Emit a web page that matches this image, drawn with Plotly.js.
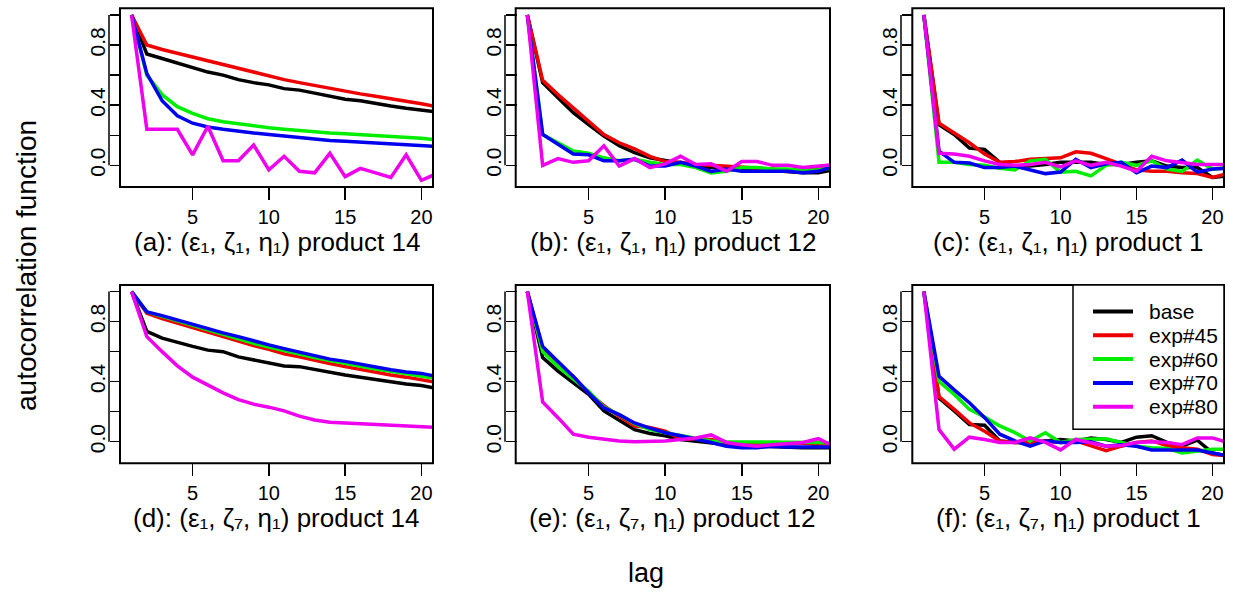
<!DOCTYPE html>
<html>
<head>
<meta charset="utf-8">
<script src="https://cdn.plot.ly/plotly-3.0.1.min.js"></script>
<style>html,body{margin:0;padding:0;background:#fff;}#chart{width:1238px;height:592px;}</style>
</head>
<body>
<div id="chart"></div>
<script>
// ---------- data ----------
const lags = [1,2,3,4,5,6,7,8,9,10,11,12,13,14,15,16,17,18,19,20,21];
const seriesNames = ['base','exp#45','exp#60','exp#70','exp#80'];
const seriesColors = ['#000000','#ee0000','#00ee00','#0000ee','#ee00ee'];
const panelLabels = [
  '(a): (ε₁, ζ₁, η₁) product 14',
  '(b): (ε₁, ζ₁, η₁) product 12',
  '(c): (ε₁, ζ₁, η₁) product 1',
  '(d): (ε₁, ζ₇, η₁) product 14',
  '(e): (ε₁, ζ₇, η₁) product 12',
  '(f): (ε₁, ζ₇, η₁) product 1'
];
const xTickVals = [5,10,15,20];
const yTickVals = [0,0.4,0.8];
const yTickText = ['0.0','0.4','0.8'];
const yMinorStep = 0.2;
const xTitle = 'lag';
const yTitle = 'autocorrelation function';

// panel (a)
const a_base = [1,0.74,0.71,0.68,0.65,0.62,0.60,0.57,0.55,0.535,0.51,0.50,0.48,0.46,0.44,0.43,0.41,0.395,0.38,0.37,0.355];
const a_e45  = [1,0.80,0.77,0.745,0.72,0.69,0.665,0.64,0.615,0.59,0.57,0.55,0.53,0.515,0.495,0.475,0.46,0.445,0.43,0.41,0.39];
const a_e60  = [1,0.60,0.47,0.39,0.345,0.31,0.29,0.275,0.26,0.25,0.24,0.23,0.22,0.215,0.21,0.205,0.20,0.19,0.185,0.18,0.17];
const a_e70  = [1,0.61,0.43,0.33,0.28,0.255,0.24,0.225,0.215,0.205,0.195,0.18,0.17,0.165,0.16,0.155,0.15,0.145,0.14,0.135,0.125];
const a_e80  = [1,0.24,0.24,0.24,0.07,0.26,0.03,0.03,0.135,-0.03,0.06,-0.04,-0.05,0.08,-0.075,-0.02,-0.05,-0.08,0.07,-0.10,-0.055];
// panel (b)
const b_base = [1,0.55,0.45,0.35,0.27,0.195,0.13,0.085,0.05,0.03,0.015,-0.005,-0.015,-0.015,-0.025,-0.025,-0.035,-0.045,-0.05,-0.05,-0.03];
const b_e45  = [1,0.565,0.47,0.38,0.295,0.205,0.15,0.11,0.06,0.025,0.02,0.005,0.0,-0.005,-0.015,-0.015,-0.025,-0.035,-0.035,-0.025,-0.015];
const b_e60  = [1,0.205,0.15,0.095,0.08,0.05,0.03,0.04,0.02,0.005,0.005,-0.015,-0.05,-0.04,-0.015,-0.015,-0.025,-0.025,-0.035,-0.03,-0.015];
const b_e70  = [1,0.205,0.14,0.075,0.07,0.03,0.03,0.04,-0.005,-0.005,0.02,-0.005,-0.04,-0.025,-0.04,-0.04,-0.04,-0.04,-0.05,-0.04,-0.005];
const b_e80  = [1,0.0,0.045,0.02,0.03,0.13,-0.005,0.045,-0.015,0.01,0.06,0.005,0.01,-0.04,0.025,0.025,0.0,0.0,-0.015,-0.005,0.005];
// panel (c)
const c_base = [1,0.27,0.205,0.115,0.105,0.02,-0.005,-0.005,0.005,0.02,0.02,0.02,0.005,0.005,0.02,0.03,-0.005,-0.015,-0.015,-0.08,-0.07];
const c_e45  = [1,0.28,0.215,0.15,0.075,0.02,0.025,0.04,0.045,0.05,0.09,0.08,0.045,0.005,-0.03,-0.04,-0.04,-0.05,-0.055,-0.08,-0.055];
const c_e60  = [1,0.02,0.02,0.005,0.0,-0.02,-0.03,0.03,0.04,-0.045,-0.04,-0.07,0.0,0.02,0.0,0.03,-0.025,-0.04,0.035,-0.025,-0.015];
const c_e70  = [1,0.095,0.02,0.015,-0.015,-0.015,-0.005,-0.03,-0.055,-0.045,0.04,-0.015,0.01,0.02,-0.05,-0.005,-0.015,0.035,-0.045,-0.025,-0.02];
const c_e80  = [1,0.08,0.075,0.06,0.03,0.005,0.0,0.005,0.02,-0.01,0.03,0.0,0.02,-0.005,-0.04,0.06,0.03,0.02,0.005,0.005,0.005];
// panel (d)
const d_base = [1,0.735,0.69,0.66,0.635,0.61,0.60,0.565,0.545,0.53,0.505,0.50,0.48,0.46,0.445,0.43,0.415,0.395,0.385,0.375,0.355];
const d_e45  = [1,0.855,0.82,0.79,0.755,0.725,0.70,0.67,0.64,0.615,0.585,0.565,0.54,0.52,0.50,0.48,0.46,0.445,0.43,0.415,0.395];
const d_e60  = [1,0.865,0.835,0.805,0.77,0.74,0.715,0.685,0.655,0.63,0.605,0.58,0.56,0.54,0.52,0.50,0.485,0.47,0.455,0.44,0.42];
const d_e70  = [1,0.865,0.84,0.81,0.78,0.75,0.725,0.70,0.67,0.645,0.62,0.595,0.575,0.55,0.535,0.515,0.50,0.48,0.465,0.455,0.435];
const d_e80  = [1,0.70,0.60,0.505,0.43,0.375,0.325,0.28,0.25,0.23,0.205,0.17,0.145,0.13,0.125,0.12,0.11,0.105,0.10,0.10,0.095];
// panel (e)
const e_base = [1,0.56,0.47,0.39,0.315,0.205,0.14,0.08,0.055,0.04,0.015,0.005,-0.005,-0.02,-0.03,-0.03,-0.035,-0.04,-0.04,-0.04,-0.04];
const e_e45  = [1,0.615,0.50,0.435,0.325,0.24,0.17,0.105,0.095,0.07,0.02,0.02,0.015,-0.005,-0.01,-0.02,-0.005,-0.005,-0.01,-0.02,-0.03];
const e_e60  = [1,0.60,0.50,0.42,0.335,0.23,0.18,0.12,0.08,0.06,0.04,0.02,0.005,0.0,0.0,0.0,-0.005,0.0,-0.005,-0.005,-0.01];
const e_e70  = [1,0.635,0.535,0.435,0.325,0.225,0.18,0.125,0.09,0.06,0.04,0.02,-0.005,-0.03,-0.04,-0.04,-0.03,-0.035,-0.035,-0.035,-0.035];
const e_e80  = [1,0.265,0.16,0.05,0.03,0.015,0.005,0.0,0.0,0.005,0.015,0.025,0.045,-0.005,-0.02,-0.03,-0.02,-0.01,-0.005,0.02,-0.03];
// panel (f)
const f_base = [1,0.29,0.205,0.115,0.11,0.005,-0.005,-0.005,0.005,0.015,0.005,0.025,0.015,-0.005,0.03,0.04,-0.005,-0.03,0.01,-0.075,-0.095];
const f_e45  = [1,0.30,0.215,0.125,0.07,0.005,-0.005,-0.005,0.005,-0.005,0.005,-0.03,-0.06,-0.03,-0.005,0.005,-0.025,-0.04,-0.05,-0.085,-0.095];
const f_e60  = [1,0.40,0.315,0.215,0.165,0.105,0.06,0.005,0.06,-0.005,0.015,0.015,0.02,-0.005,-0.03,-0.04,-0.045,-0.075,-0.06,-0.05,-0.05];
const f_e70  = [1,0.435,0.345,0.26,0.16,0.05,0.005,-0.03,0.005,-0.005,-0.005,0.0,-0.03,-0.02,-0.03,-0.055,-0.055,-0.055,-0.055,-0.075,-0.095];
const f_e80  = [1,0.08,-0.05,0.03,0.015,-0.005,-0.005,0.025,-0.005,-0.055,0.015,-0.005,-0.03,-0.025,-0.005,0.0,-0.005,-0.02,0.025,0.025,-0.005];

const panels = [
  [a_base,a_e45,a_e60,a_e70,a_e80],
  [b_base,b_e45,b_e60,b_e70,b_e80],
  [c_base,c_e45,c_e60,c_e70,c_e80],
  [d_base,d_e45,d_e60,d_e70,d_e80],
  [e_base,e_e45,e_e60,e_e70,e_e80],
  [f_base,f_e45,f_e60,f_e70,f_e80]
];

// ---------- layout geometry (pixels) ----------
const W = 1238, H = 592;
const colX = [[120,433],[515.7,830],[912.3,1224]];
const axisLineX = [109,505,901];
const rowY = [[8.3,187],[285,463.3]];
const FONT = 'Liberation Sans, Arial, Helvetica, sans-serif';
// legend box (pixels)
const LEG = {x0:1073, x1:1224, y0:285, y1:429.3, lineX0:1093, lineX1:1133, textX:1147, firstRow:311.5, rowStep:23.8};

const data = [];
const layout = {
  width: W, height: H, autosize: false,
  margin: {l:0,r:0,t:0,b:0,pad:0},
  paper_bgcolor: '#ffffff', plot_bgcolor: '#ffffff',
  font: {family: FONT, color: '#000000', size: 20},
  showlegend: false,
  shapes: [], annotations: []
};

for (let p = 0; p < 6; p++) {
  const col = p % 3, row = Math.floor(p / 3);
  const id = p === 0 ? '' : String(p + 1);
  const xa = 'xaxis' + id, ya = 'yaxis' + id;
  const xr = 'x' + id, yr = 'y' + id;
  layout[xa] = {
    domain: [colX[col][0]/W, colX[col][1]/W],
    range: [0.24, 20.76], anchor: yr,
    tickmode: 'array', tickvals: xTickVals, ticktext: xTickVals.map(String),
    ticks: 'outside', ticklen: 12, tickwidth: 1.5, tickcolor: '#000',
    showgrid: false, zeroline: false, showline: false,
    tickfont: {family: FONT, size: 20, color: '#000'}
  };
  layout[ya] = {
    domain: [1-rowY[row][1]/H, 1-rowY[row][0]/H],
    range: [-0.144, 1.044], anchor: 'free',
    position: axisLineX[col]/W,
    tickmode: 'array', tickvals: yTickVals, ticktext: yTickText,
    ticks: 'inside', ticklen: 11, tickwidth: 1.5, tickcolor: '#000',
    minor: {tick0: 0, dtick: yMinorStep, ticks: 'inside', ticklen: 11, tickwidth: 1.5, tickcolor: '#000', showgrid: false},
    tickangle: -90, showgrid: false, zeroline: false, showline: false,
    tickfont: {family: FONT, size: 21, color: '#000'}
  };
  // plot box
  layout.shapes.push({type:'rect', xref: xr + ' domain', yref: yr + ' domain',
    x0:0, x1:1, y0:0, y1:1, line:{color:'#000', width:2}, layer:'above'});
  // y axis line spanning 0 to 1
  layout.shapes.push({type:'line', xref:'paper', yref: yr,
    x0: axisLineX[col]/W, x1: axisLineX[col]/W, y0: 0, y1: 1,
    line:{color:'#000', width:1.5}});
  // panel caption
  layout.annotations.push({text: panelLabels[p], xref:'paper', yref:'paper',
    x: (colX[col][0]+colX[col][1])/2/W, y: 1-(rowY[row][1]+55)/H,
    xanchor:'center', yanchor:'middle', showarrow:false,
    font:{family: FONT, size: 26, color:'#000'}});
  const series = panels[p];
  for (let s = 0; s < series.length; s++) {
    data.push({
      type:'scatter', mode:'lines', x: lags, y: series[s],
      xaxis: xr, yaxis: yr, name: seriesNames[s],
      showlegend: false,
      line: {color: seriesColors[s], width: 3.5},
      hoverinfo: 'skip'
    });
  }
}

// legend (drawn in panel f's top-right corner)
layout.shapes.push({type:'rect', xref:'paper', yref:'paper',
  x0: LEG.x0/W, x1: LEG.x1/W, y0: 1-LEG.y1/H, y1: 1-LEG.y0/H,
  fillcolor:'#ffffff', line:{color:'#000', width:1.5}, layer:'above'});
for (let s = 0; s < seriesNames.length; s++) {
  const yy = 1 - (LEG.firstRow + s*LEG.rowStep)/H;
  layout.shapes.push({type:'line', xref:'paper', yref:'paper',
    x0: LEG.lineX0/W, x1: LEG.lineX1/W, y0: yy, y1: yy,
    line:{color: seriesColors[s], width: 4}, layer:'above'});
  layout.annotations.push({text: seriesNames[s], xref:'paper', yref:'paper',
    x: LEG.textX/W, y: yy, xanchor:'left', yanchor:'middle', showarrow:false,
    font:{family: FONT, size: 21, color:'#000'}});
}

layout.annotations.push({text: yTitle, xref:'paper', yref:'paper', x: 26/W, y: 1-266/H,
  textangle: -90, showarrow:false, xanchor:'center', yanchor:'middle',
  font:{family: FONT, size: 28, color:'#000'}});
layout.annotations.push({text: xTitle, xref:'paper', yref:'paper', x: 646/W, y: 1-573/H,
  showarrow:false, xanchor:'center', yanchor:'middle',
  font:{family: FONT, size: 27, color:'#000'}});

Plotly.newPlot('chart', data, layout, {staticPlot: true, displayModeBar: false});
</script>
</body>
</html>
